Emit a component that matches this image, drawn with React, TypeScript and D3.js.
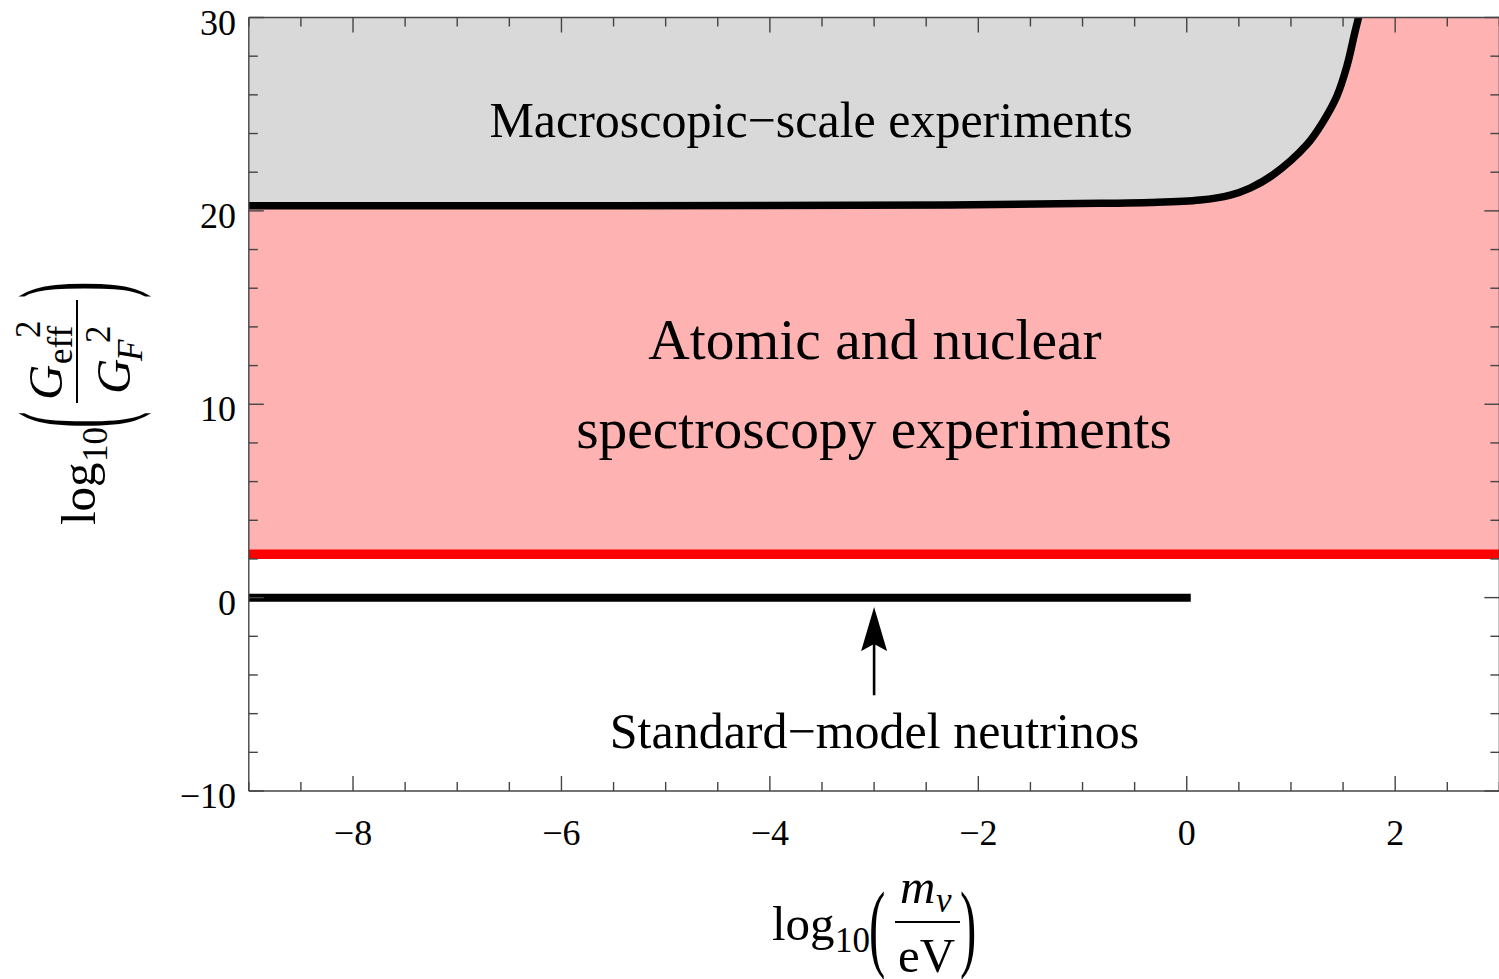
import React from "react";
import * as d3 from "d3";

// ---- data ----
const xDomain: [number, number] = [-9, 3];
const yDomain: [number, number] = [-10, 30];
const xMajorTicks = [-8, -6, -4, -2, 0, 2];
const xMajorLabels = ["\u22128", "\u22126", "\u22124", "\u22122", "0", "2"];
const yMajorTicks = [-10, 0, 10, 20, 30];
const yMajorLabels = ["\u221210", "0", "10", "20", "30"];
const xMinorStep = 0.5;
const yMinorStep = 2;

// boundary of macroscopic-scale experiments (black curve)
const boundaryX = [-9, -2.27, -0.833, -0.353, 0.127, 0.418, 0.607, 0.827, 1.153, 1.307, 1.441, 1.537, 1.614, 1.652];
const boundaryY = [20.27, 20.3, 20.39, 20.43, 20.56, 20.82, 21.18, 21.86, 23.43, 24.6, 25.94, 27.49, 29.25, 30.08];

// atomic / nuclear spectroscopy lower bound (red line)
const spectroscopyBound = 2.24;
// standard-model neutrinos
const smX = [-9, 0];
const smY = 0;
const arrowX = -3;
const arrowY = [-5.05, -0.49];

const W = 1499;
const H = 979;
const FONT = "'Liberation Serif', 'Times New Roman', Times, serif";

export default function App() {
  const x = d3.scaleLinear().domain(xDomain).range([248.8, 1499.4]);
  const y = d3.scaleLinear().domain(yDomain).range([791, 17.5]);
  const [x0, x1] = x.range();
  const [yb, yt] = y.range();

  const boundary = boundaryX.map((v, i) => [v, boundaryY[i]] as [number, number]);
  const curve = d3.curveCatmullRom.alpha(0.5);
  const line = d3
    .line<[number, number]>()
    .x((d) => x(d[0]))
    .y((d) => y(d[1]))
    .curve(curve);
  const grayArea = d3
    .area<[number, number]>()
    .x((d) => x(d[0]))
    .y0(() => y(yDomain[1]))
    .y1((d) => y(d[1]))
    .curve(curve);
  const pinkArea = d3
    .area<number>()
    .x((d) => x(d))
    .y0(() => y(spectroscopyBound))
    .y1(() => y(yDomain[1]));

  const xMinor = d3.range(xDomain[0], xDomain[1] + 1e-9, xMinorStep).filter((v) => !xMajorTicks.includes(v));
  const yMinor = d3.range(yDomain[0], yDomain[1] + 1e-9, yMinorStep).filter((v) => !yMajorTicks.includes(v));

  const tickColor = "#444";
  const majorLen = 15;
  const minorLen = 9;

  const parenScaleX = 2.0;
  const parenScaleY = 3.0;

  return (
    <svg
      width={W}
      height={H}
      style={{ position: "absolute", left: 0, top: 0, background: "#fff" }}
      fontFamily={FONT}
    >
      <defs>
        <clipPath id="plot">
          <rect x={x0} y={yt} width={x1 - x0} height={yb - yt} />
        </clipPath>
        <marker
          id="head"
          markerUnits="userSpaceOnUse"
          markerWidth={50}
          markerHeight={30}
          refX={34}
          refY={14}
          orient="auto"
        >
          <path d="M0,1 L44,14 L0,27 L7,14 Z" fill="#000" />
        </marker>
      </defs>

      <g clipPath="url(#plot)">
        <path d={pinkArea(xDomain) || ""} fill="#ffb2b2" />
        <path d={grayArea(boundary) || ""} fill="#d9d9d9" />
        <line
          x1={x(xDomain[0])}
          x2={x(xDomain[1])}
          y1={y(spectroscopyBound)}
          y2={y(spectroscopyBound)}
          stroke="#ff0000"
          strokeWidth={9.5}
        />
        <path d={line(boundary) || ""} fill="none" stroke="#000" strokeWidth={7.5} />
        <line
          x1={x(smX[0])}
          x2={x(smX[1])}
          y1={y(smY)}
          y2={y(smY)}
          stroke="#000"
          strokeWidth={8}
          strokeLinecap="square"
        />
        <line
          x1={x(arrowX)}
          x2={x(arrowX)}
          y1={y(arrowY[0])}
          y2={y(arrowY[1]) + 10}
          stroke="#000"
          strokeWidth={2.6}
          markerEnd="url(#head)"
        />
      </g>

      {/* region labels */}
      <g fill="#000" textAnchor="middle">
        <text x={811} y={137} fontSize={50}>
          Macroscopic{"\u2212"}scale experiments
        </text>
        <text x={875} y={359} fontSize={57.5}>
          Atomic and nuclear
        </text>
        <text x={874} y={448} fontSize={57.5}>
          spectroscopy experiments
        </text>
        <text x={874.5} y={748} fontSize={50}>
          Standard{"\u2212"}model neutrinos
        </text>
      </g>

      {/* frame */}
      <g stroke="#444" strokeWidth={1.4} fill="none">
        <line x1={x0} x2={x1} y1={yb} y2={yb} />
        <line x1={x0} x2={x1} y1={yt} y2={yt} />
        <line x1={x0} x2={x0} y1={yt} y2={yb} />
        <line x1={x1} x2={x1} y1={yt} y2={yb} />
      </g>

      {/* ticks */}
      <g stroke={tickColor} strokeWidth={1.4}>
        {xMajorTicks.map((t) => (
          <g key={"xM" + t}>
            <line x1={x(t)} x2={x(t)} y1={yb} y2={yb - majorLen} />
            <line x1={x(t)} x2={x(t)} y1={yt} y2={yt + majorLen} />
          </g>
        ))}
        {xMinor.map((t) => (
          <g key={"xm" + t}>
            <line x1={x(t)} x2={x(t)} y1={yb} y2={yb - minorLen} />
            <line x1={x(t)} x2={x(t)} y1={yt} y2={yt + minorLen} />
          </g>
        ))}
        {yMajorTicks.map((t) => (
          <g key={"yM" + t}>
            <line x1={x0} x2={x0 + majorLen} y1={y(t)} y2={y(t)} />
            <line x1={x1} x2={x1 - majorLen} y1={y(t)} y2={y(t)} />
          </g>
        ))}
        {yMinor.map((t) => (
          <g key={"ym" + t}>
            <line x1={x0} x2={x0 + minorLen} y1={y(t)} y2={y(t)} />
            <line x1={x1} x2={x1 - minorLen} y1={y(t)} y2={y(t)} />
          </g>
        ))}
      </g>

      {/* tick labels */}
      <g fontSize={36} fill="#000">
        {xMajorTicks.map((t, i) => (
          <text key={"xl" + t} x={x(t)} y={yb + 54} textAnchor="middle">
            {xMajorLabels[i]}
          </text>
        ))}
        {yMajorTicks.map((t, i) => (
          <text key={"yl" + t} x={236} y={y(t) + 17} textAnchor="end">
            {yMajorLabels[i]}
          </text>
        ))}
      </g>

      {/* x axis label: log10(m_nu / eV) */}
      <g fill="#000">
        <text x={772} y={940} fontSize={49}>log</text>
        <text x={835} y={952} fontSize={35}>10</text>
        <text transform={`translate(869,959) scale(1,${parenScaleX})`} fontSize={49}>(</text>
        <text x={900} y={903} fontSize={49} fontStyle="italic">m</text>
        <text x={936} y={912} fontSize={35} fontStyle="italic">{"\u03bd"}</text>
        <line x1={895} x2={960} y1={922} y2={922} stroke="#000" strokeWidth={2} />
        <text x={898} y={972} fontSize={49}>eV</text>
        <text transform={`translate(960,959) scale(1,${parenScaleX})`} fontSize={49}>)</text>
      </g>

      {/* y axis label: log10(Geff^2 / GF^2), rotated */}
      <g fill="#000" transform="rotate(-90)">
        <text x={-525} y={95} fontSize={49}>log</text>
        <text x={-462} y={107} fontSize={35}>10</text>
        <text transform={`translate(-428,120) scale(1,${parenScaleY})`} fontSize={49}>(</text>
        <text x={-400} y={62} fontSize={49} fontStyle="italic">G</text>
        <text x={-364} y={72} fontSize={35}>eff</text>
        <text x={-338} y={40} fontSize={35}>2</text>
        <line x1={-403} x2={-300} y1={77} y2={77} stroke="#000" strokeWidth={2} />
        <text x={-394} y={130} fontSize={49} fontStyle="italic">G</text>
        <text x={-361} y={142} fontSize={35} fontStyle="italic">F</text>
        <text x={-343} y={110} fontSize={35}>2</text>
        <text transform={`translate(-298,120) scale(1,${parenScaleY})`} fontSize={49}>)</text>
      </g>
    </svg>
  );
}
